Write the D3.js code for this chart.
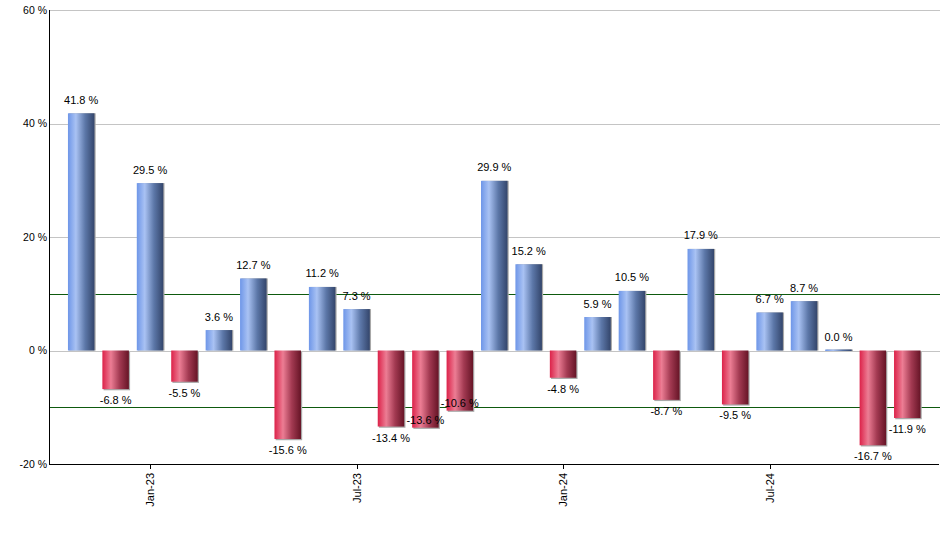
<!DOCTYPE html>
<html>
<head>
<meta charset="utf-8">
<script src="https://cdn.jsdelivr.net/npm/d3@7"></script>
<style>
  html, body { margin: 0; padding: 0; background: #fff; }
  svg { display: block; font-family: "Liberation Sans", Arial, sans-serif; }
</style>
</head>
<body>
<svg id="chart" width="940" height="550"></svg>
<script>
// ---- data ----
const months = ["Nov-22","Dec-22","Jan-23","Feb-23","Mar-23","Apr-23","May-23","Jun-23","Jul-23","Aug-23","Sep-23","Oct-23","Nov-23","Dec-23","Jan-24","Feb-24","Mar-24","Apr-24","May-24","Jun-24","Jul-24","Aug-24","Sep-24","Oct-24","Nov-24"];
const values = [41.8,-6.8,29.5,-5.5,3.6,12.7,-15.6,11.2,7.3,-13.4,-13.6,-10.6,29.9,15.2,-4.8,5.9,10.5,-8.7,17.9,-9.5,6.7,8.7,0.0,-16.7,-11.9];
const xTickLabels = ["Jan-23","Jul-23","Jan-24","Jul-24"];
const yTicks = [-20, 0, 20, 40, 60];
const refLines = [10, -10];

// ---- layout ----
const svg = d3.select("#chart");
const pLeft = 50, pRight = 939, pTop = 10, pBottom = 464;

const x = d3.scaleBand().domain(months).range([64, 924.5]).paddingInner(0.23).paddingOuter(0.115);
const y = d3.scaleLinear().domain([-20, 60]).range([pBottom, pTop]);

// gradients
const defs = svg.append("defs");
function grad(id, stops) {
  const g = defs.append("linearGradient").attr("id", id).attr("x1", "0%").attr("x2", "100%").attr("y1", "0%").attr("y2", "0%");
  stops.forEach(s => g.append("stop").attr("offset", s[0]).attr("stop-color", s[1]));
}
grad("gBlue", [["0%", "#6e96e8"], ["30%", "#a9c2f3"], ["65%", "#5c77a8"], ["100%", "#33456b"]]);
grad("gRed", [["0%", "#dc2249"], ["32%", "#ec7d94"], ["65%", "#a33a52"], ["100%", "#661426"]]);

// gridlines
svg.append("g").selectAll("line").data(yTicks.filter(t => t > -20)).join("line")
  .attr("x1", pLeft).attr("x2", 940)
  .attr("y1", d => Math.round(y(d)) + 0.5).attr("y2", d => Math.round(y(d)) + 0.5)
  .attr("stroke", "#c4c4c4").attr("stroke-width", 1);

// reference lines
svg.append("g").selectAll("line").data(refLines).join("line")
  .attr("x1", pLeft).attr("x2", 940)
  .attr("y1", d => Math.round(y(d)) + 0.5).attr("y2", d => Math.round(y(d)) + 0.5)
  .attr("stroke", "#0e5a0e").attr("stroke-width", 1);

// bars
const bw = x.bandwidth();
const barG = svg.append("g");
const barData = values.map((v, i) => ({ m: months[i], v }));
function barTop(d) { return d.v >= 0 ? y(d.v) - (d.v === 0 ? 1 : 0) : y(0); }
function barH(d) { return Math.max(Math.abs(y(d.v) - y(0)), 1.5); }
// shadow
barG.selectAll("rect.sh").data(barData).join("rect").attr("class", "sh")
  .attr("x", d => x(d.m) + 1.2).attr("y", d => barTop(d) + (d.v < 0 ? 1.2 : 0))
  .attr("width", bw).attr("height", d => barH(d))
  .attr("fill", "#a8a8a8");
barG.selectAll("rect.bar").data(barData).join("rect").attr("class", "bar")
  .attr("x", d => x(d.m)).attr("y", d => barTop(d))
  .attr("width", bw).attr("height", d => barH(d))
  .attr("fill", d => d.v >= 0 ? "url(#gBlue)" : "url(#gRed)");

// value labels with simple collision avoidance
const labG = svg.append("g").attr("font-size", "11px").attr("fill", "#000").attr("text-anchor", "middle");
const placed = [];
barData.forEach(d => {
  const cx = x(d.m) + bw / 2;
  let by = d.v >= 0 ? y(d.v) - 9.5 : y(d.v) + 15;
  const t = labG.append("text").attr("x", cx).attr("y", by).text(d.v.toFixed(1) + " %");
  const w = t.node().getComputedTextLength();
  const box = () => ({ x0: cx - w / 2, x1: cx + w / 2, y0: by - 10, y1: by + 2 });
  let guard = 0;
  while (placed.some(p => { const b = box(); return b.x0 < p.x1 && b.x1 > p.x0 && b.y0 < p.y1 && b.y1 > p.y0; }) && guard++ < 10) {
    by -= 19;
  }
  t.attr("y", by);
  placed.push(box());
});

// y axis
const yAxis = svg.append("g");
yAxis.append("line").attr("x1", pLeft - 0.5).attr("x2", pLeft - 0.5).attr("y1", pTop).attr("y2", pBottom + 0.5).attr("stroke", "#000");
yAxis.selectAll("text").data(yTicks).join("text")
  .attr("x", pLeft - 3).attr("y", d => y(d) + 3.5)
  .attr("text-anchor", "end").attr("font-size", "10.5px").attr("fill", "#000")
  .text(d => d + " %");

// x axis
const xAxis = svg.append("g");
xAxis.append("line").attr("x1", pLeft - 1).attr("x2", pRight).attr("y1", pBottom + 0.5).attr("y2", pBottom + 0.5).attr("stroke", "#000");
xTickLabels.forEach(lbl => {
  const cx = Math.round(x(lbl) + bw / 2) + 0.5;
  xAxis.append("line").attr("x1", cx).attr("x2", cx).attr("y1", pBottom).attr("y2", pBottom + 5).attr("stroke", "#000");
  xAxis.append("text")
    .attr("transform", `translate(${cx + 3.5},${pBottom + 9}) rotate(-90)`)
    .attr("text-anchor", "end").attr("font-size", "11px").attr("fill", "#000")
    .text(lbl);
});
</script>
</body>
</html>
